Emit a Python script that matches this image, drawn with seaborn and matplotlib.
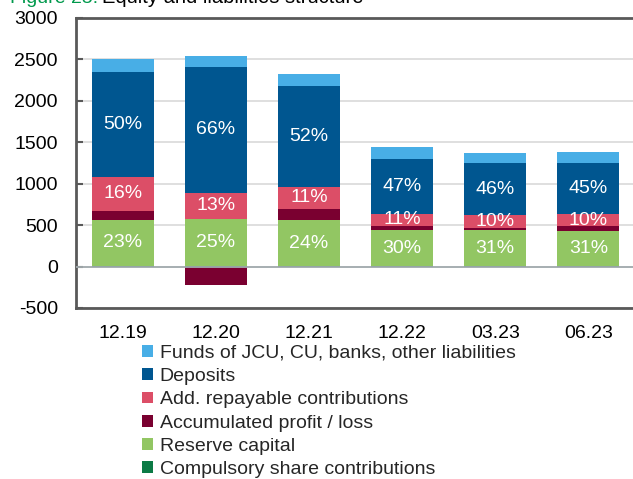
import matplotlib
matplotlib.use("Agg")
import matplotlib.pyplot as plt
from matplotlib.patches import Patch
import numpy as np
import pandas as pd
import seaborn as sns

categories = ["12.19", "12.20", "12.21", "12.22", "03.23", "06.23"]
compulsory = [5, 5, 5, 5, 5, 5]
reserve = [562, 574, 558, 437, 433, 429]
accumulated = [108, -221, 137, 44, 29, 52]
add_repayable = [402, 310, 265, 153, 152, 150]
deposits = [1272, 1521, 1213, 664, 627, 610]
funds = [151, 130, 146, 141, 121, 141]

reserve_labels = ["23%", "25%", "24%", "30%", "31%", "31%"]
add_labels = ["16%", "13%", "11%", "11%", "10%", "10%"]
deposit_labels = ["50%", "66%", "52%", "47%", "46%", "45%"]

series_names = ["Funds of JCU, CU, banks, other liabilities", "Deposits",
                "Add. repayable contributions", "Accumulated profit / loss",
                "Reserve capital", "Compulsory share contributions"]
colors = {"Funds of JCU, CU, banks, other liabilities": "#48AEE6",
          "Deposits": "#005690",
          "Add. repayable contributions": "#DC4E67",
          "Accumulated profit / loss": "#7A0030",
          "Reserve capital": "#92C663",
          "Compulsory share contributions": "#0B7A45"}

sns.set_theme(style="white")
plt.rcParams["font.family"] = ["Liberation Sans", "DejaVu Sans"]
plt.rcParams["axes.unicode_minus"] = False

fig = plt.figure(figsize=(6.33, 4.79), dpi=100)
ax = fig.add_axes([76 / 633, 1 - 308 / 479, 559 / 633, 290 / 479])

comp = np.array(compulsory, float)
res = np.array(reserve, float)
acc = np.array(accumulated, float)
add = np.array(add_repayable, float)
dep = np.array(deposits, float)
fun = np.array(funds, float)

b_res = comp
b_acc = np.where(acc >= 0, comp + res, 0)
b_add = comp + res + np.clip(acc, 0, None)
b_dep = b_add + add
b_fun = b_dep + dep

layers = [
    ("Compulsory share contributions", comp, np.zeros(6)),
    ("Reserve capital", res, b_res),
    ("Accumulated profit / loss", acc, b_acc),
    ("Add. repayable contributions", add, b_add),
    ("Deposits", dep, b_dep),
    ("Funds of JCU, CU, banks, other liabilities", fun, b_fun),
]

for name, vals, bottom in layers:
    df = pd.DataFrame({"period": categories, "value": vals})
    sns.barplot(data=df, x="period", y="value", order=categories, bottom=bottom,
                color=colors[name], saturation=1, width=0.667, ax=ax,
                edgecolor="none", linewidth=0, errorbar=None, zorder=3)

xs = np.arange(len(categories))
for i in xs:
    ax.text(i, b_res[i] + res[i] / 2, reserve_labels[i], ha="center", va="center",
            color="white", fontsize=14, zorder=5)
    ax.text(i, b_add[i] + add[i] / 2, add_labels[i], ha="center", va="center",
            color="white", fontsize=14, zorder=5)
    ax.text(i, b_dep[i] + dep[i] / 2, deposit_labels[i], ha="center", va="center",
            color="white", fontsize=14, zorder=5)

ax.set_xlim(-0.5, 5.5)
ax.set_ylim(-500, 3000)
ax.set_yticks(np.arange(-500, 3001, 500))
ax.yaxis.grid(True, color="#D9D9D9", linewidth=1.2, zorder=0)
ax.xaxis.grid(False)
ax.axhline(0, color="#A3ABAF", linewidth=1.3, zorder=4)
ax.set_xlabel("")
ax.set_ylabel("")
for s in ["left", "top", "bottom"]:
    ax.spines[s].set_color("#595959")
    ax.spines[s].set_linewidth(2)
ax.spines["right"].set_visible(False)
ax.tick_params(axis="y", direction="in", length=5, width=1.5, color="#595959",
               labelsize=14, pad=13, labelcolor="black", left=True)
ax.tick_params(axis="x", length=0, labelsize=14, pad=12, labelcolor="black")

fig.text(10 / 633, 1 - 3 / 479, "Figure 25:", color="#00994C", fontsize=14,
         ha="left", va="baseline")
fig.text(102 / 633, 1 - 3 / 479, "Equity and liabilities structure", color="black",
         fontsize=14.5, ha="left", va="baseline")

handles = [Patch(facecolor=colors[n], edgecolor="none", label=n) for n in series_names]
fig.legend(handles=handles, loc="upper left", bbox_to_anchor=(142 / 633, 1 - 345 / 479),
           frameon=False, fontsize=14, handlelength=0.55, handleheight=0.55,
           handletextpad=0.35, labelspacing=0.32, borderpad=0, borderaxespad=0)

fig.savefig("out.png", dpi=100)
